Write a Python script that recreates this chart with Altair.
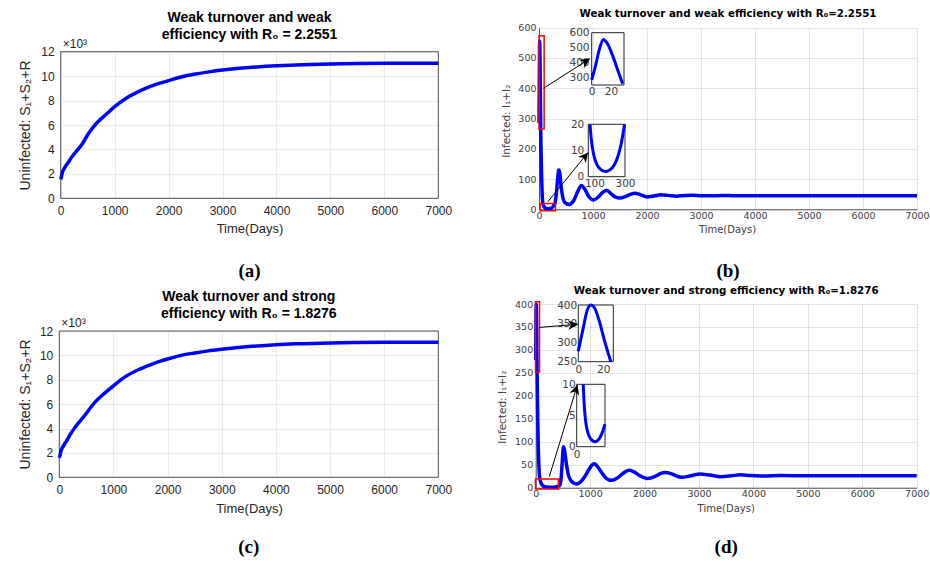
import math
import altair as alt
import pandas as pd

W, H = 930, 561

# ---------------- values ----------------
TIME_A = [0, 10, 30, 60, 100, 150, 200, 300, 400, 500, 600, 700, 850, 1000, 1200, 1500,
          1750, 2000, 2250, 2500, 2750, 3000, 3500, 4000, 4500, 5000, 6000, 7000]
UNINF_A = [1.55, 1.7, 2.1, 2.4, 2.7, 3.0, 3.35, 3.9, 4.45, 5.2, 5.8, 6.3, 6.9, 7.5, 8.15, 8.85,
           9.3, 9.63, 9.95, 10.17, 10.35, 10.5, 10.7, 10.85, 10.93, 11.0, 11.05, 11.05]
TIME_C = [0, 10, 30, 60, 100, 150, 200, 300, 400, 500, 600, 700, 850, 1000, 1200, 1500,
          1750, 2000, 2250, 2500, 2750, 3000, 3500, 4000, 4500, 5000, 6000, 7000]
UNINF_C = [1.6, 1.75, 2.15, 2.45, 2.75, 3.1, 3.5, 4.15, 4.7, 5.25, 5.85, 6.35, 6.95, 7.5, 8.2, 8.9,
           9.35, 9.7, 10.0, 10.2, 10.37, 10.5, 10.72, 10.88, 10.96, 11.02, 11.07, 11.08]
TIME_B = [0, 4, 8, 12, 16, 22, 28, 32, 40, 50, 60, 71, 80, 95, 115, 140, 170, 200, 230, 255,
          275, 297, 320, 345, 365, 385, 410, 440, 480, 560, 640, 720, 785, 850, 920, 1000, 1100,
          1180, 1255, 1330, 1420, 1495, 1600, 1700, 1776, 1880, 2000, 2130, 2255, 2400, 2550,
          2700, 2850, 3000, 3200, 3400, 3600, 4000, 5000, 6000, 7000]
INF_B = [285, 380, 490, 555, 530, 440, 330, 258, 180, 100, 45, 20, 14, 8.5, 4.8, 2.8, 2.0, 2.6,
         4.5, 8, 12.5, 20, 50, 100, 130, 120, 75, 40, 22, 16, 28, 60, 79, 66, 42, 31, 41, 56, 62,
         52, 40, 37, 42, 50, 53, 48, 41, 44, 48, 46, 43.5, 45.5, 46.5, 45, 44.5, 45.5, 45, 45, 45,
         45, 45]
TIME_D = [0, 4, 7, 10, 13, 17, 21, 26, 35, 45, 60, 75, 99, 115, 140, 170, 210, 250, 280, 320,
          360, 400, 430, 450, 470, 490, 510, 530, 560, 600, 650, 700, 753, 820, 900, 980, 1040,
          1078, 1130, 1200, 1290, 1396, 1500, 1600, 1715, 1800, 1900, 2000, 2058, 2200, 2300,
          2376, 2500, 2600, 2682, 2850, 3019, 3200, 3400, 3600, 3750, 3950, 4200, 4500, 5000,
          6000, 7000]
INF_D = [278, 340, 385, 400, 392, 355, 305, 250, 170, 100, 45, 20, 10, 6.5, 3.8, 2.2, 1.3, 0.9,
         0.8, 1.0, 1.6, 2.6, 3.6, 8, 25, 60, 89, 82, 55, 28, 15, 10, 8, 12, 24, 40, 50, 52, 47,
         35, 21, 16, 21, 31, 38, 35, 27, 21.5, 20, 25, 31, 33, 30, 25, 22.5, 26, 30, 27.5, 24,
         26, 28, 26.5, 25.5, 26.5, 26, 26, 26]

TITLE_A = "Weak turnover and weak\nefficiency with R\u2080 = 2.2551"
TITLE_C = "Weak turnover and strong\nefficiency with R\u2080 = 1.8276"
TITLE_B = "Weak turnover and weak efficiency with R\u2080=2.2551"
TITLE_D = "Weak turnover and strong efficiency with R\u2080=1.8276"
CAPTIONS = ["(a)", "(b)", "(c)", "(d)"]
XTITLE = "Time(Days)"
YTITLE_U = "Uninfected: S\u2081+S\u2082+R"
YTITLE_I = "Infected: I\u2081+I\u2082"
EXPONENT = "\u00d710\u00b3"

X_DOM = [0, 7000]
X_TICKS = [0, 1000, 2000, 3000, 4000, 5000, 6000, 7000]
U_DOM = [0, 12]
U_TICKS = [0, 2, 4, 6, 8, 10, 12]
B_DOM = [0, 600]
B_TICKS = [0, 100, 200, 300, 400, 500, 600]
D_DOM = [0, 400]
D_TICKS = [0, 50, 100, 150, 200, 250, 300, 350, 400]

# zoom windows of the insets
B_Z1 = dict(x=[0, 33.4], y=[250, 600], xt=[0, 20], yt=[300, 400, 500, 600])
B_Z2 = dict(x=[60, 300], y=[0, 20], xt=[100, 300], yt=[0, 10, 20])
D_Z1 = dict(x=[0, 28], y=[250, 400], xt=[0, 20], yt=[250, 300, 350, 400])
D_Z2 = dict(x=[0, 430], y=[0, 10], xt=[0], yt=[0, 5, 10])
# red rectangles [x0, x1, y0, y1] and arrows [x0, y0, x1, y1] in panel units
B_RED = [[0, 95, 265, 573], [20, 305, -5, 19]]
B_ARROWS = [[85, 400, 944, 498], [165, 25, 910, 188]]
D_RED = [[-4, 70, 252, 405], [-4, 415, -3, 19]]
D_ARROWS = [[73, 349, 777, 356], [250, 24, 766, 224]]

# ---------------- layout (pixels) ----------------
BOX_A = (60.7, 51.7, 438.3, 198.3)
BOX_B = (539.0, 27.7, 917.0, 209.3)
BOX_C = (59.3, 331.0, 438.3, 477.3)
BOX_D = (535.7, 304.0, 916.7, 487.7)
IN_B1 = (591.7, 32.7, 624.0, 85.0)
IN_B2 = (588.3, 124.3, 625.0, 176.7)
IN_D1 = (578.3, 305.0, 613.3, 361.7)
IN_D2 = (576.7, 384.3, 605.0, 446.7)

BLUE = "#0000ff"
ST_NEW = dict(font="Liberation Sans", text="#262626", axis="#262626", grid="#e4e4e4",
              lsize=12, tsize=13, ytsize=14, head_font="Liberation Sans", head_size=14)
ST_OLD = dict(font="DejaVu Sans", text="#404040", axis="#555555", grid="#dcdcdc",
              lsize=9.5, tsize=10, ytsize=10.5, head_font="DejaVu Sans", head_size=10.3)
ARROW_SHAPE = "M0,0L-0.5,1L0,0.7L0.5,1Z"


def sx(dom, box):
    return alt.Scale(domain=list(dom), range=[box[0], box[2]], nice=False, zero=False)


def sy(dom, box):
    return alt.Scale(domain=list(dom), range=[box[3], box[1]], nice=False, zero=False)


def x_axis(box, values, st, pad, size, title=None, tpos=None, domain=False):
    kw = dict(orient="bottom", offset=box[3] - H, values=values, format="d",
              labelFont=st["font"], labelFontSize=size, labelColor=st["text"],
              labelPadding=pad, labelFlush=False, labelOverlap=False, ticks=False,
              grid=False, domain=domain)
    if domain:
        kw.update(domainColor=st["axis"], domainWidth=1)
    if title:
        kw.update(title=title, titleX=tpos[0], titleY=tpos[1] - box[3], titleAlign="center",
                  titleBaseline="middle", titleFont=st["font"], titleFontSize=st["tsize"],
                  titleFontWeight="normal", titleColor=st["text"])
    else:
        kw.update(title=None)
    return alt.Axis(**kw)


def x_grid_axis(values, st):
    # a top-oriented axis that only draws the vertical grid lines
    return alt.Axis(orient="top", values=values, labels=False, ticks=False, domain=False,
                    grid=True, gridColor=st["grid"], gridWidth=0.8, title=None)


def y_axis(box, values, st, pad, size, title=None, tpos=None, grid=False, domain=False):
    kw = dict(orient="left", offset=-box[0], values=values, format="d",
              labelFont=st["font"], labelFontSize=size, labelColor=st["text"],
              labelPadding=pad, labelOverlap=False, ticks=False,
              grid=grid, domain=domain)
    if grid:
        kw.update(gridColor=st["grid"], gridWidth=0.8)
    if domain:
        kw.update(domainColor=st["axis"], domainWidth=1)
    if title:
        kw.update(title=title, titleX=tpos[0] - box[0], titleY=tpos[1], titleAlign="center",
                  titleBaseline="middle", titleAngle=270, titleFont=st["font"],
                  titleFontSize=st["ytsize"], titleFontWeight="normal", titleColor=st["text"])
    else:
        kw.update(title=None)
    return alt.Axis(**kw)


def rect_layer(df, xs_, ys_, **mark):
    return alt.Chart(df).mark_rect(**mark).encode(
        x=alt.X("x0:Q", scale=xs_, axis=None), x2="x1:Q",
        y=alt.Y("y0:Q", scale=ys_, axis=None), y2="y1:Q")


def text_layer(df, xs_, ys_, xaxis=None, **mark):
    return alt.Chart(df).mark_text(**mark).encode(
        x=alt.X("x:Q", scale=xs_, axis=xaxis), y=alt.Y("y:Q", scale=ys_, axis=None),
        text="label:N")


def main_panel(t, v, ydom, yticks, box, st, ytitle, xtpos, ytpos, lpx, lpy,
               title, title_dy, caption, cap_dy, framed, exponent_dy=None):
    xs_, ys_ = sx(X_DOM, box), sy(ydom, box)
    layers = []
    mid = (X_DOM[0] + X_DOM[1]) / 2
    # title text (also carries the vertical grid lines)
    layers.append(text_layer(pd.DataFrame({"x": [mid], "y": [ydom[1]], "label": [title]}), xs_, ys_,
                             xaxis=x_grid_axis(X_TICKS, st),
                             font=st["head_font"], fontSize=st["head_size"], fontWeight="bold",
                             color="#000000", align="center", baseline="middle", dy=title_dy,
                             lineBreak="\n", lineHeight=17))
    if framed:
        frame = pd.DataFrame({"x0": [X_DOM[0]], "x1": [X_DOM[1]], "y0": [ydom[0]], "y1": [ydom[1]]})
        layers.append(rect_layer(frame, xs_, ys_, fillOpacity=0, stroke=st["axis"], strokeWidth=0.8))
    df = pd.DataFrame({"t": t, "v": v})
    layers.append(alt.Chart(df).mark_line(color=BLUE, strokeWidth=3.5, interpolate="monotone").encode(
        x=alt.X("t:Q", scale=xs_, axis=x_axis(box, X_TICKS, st, lpx, st["lsize"], XTITLE, xtpos,
                                              domain=not framed)),
        y=alt.Y("v:Q", scale=ys_, axis=y_axis(box, yticks, st, lpy, st["lsize"], ytitle, ytpos,
                                              grid=True, domain=not framed))))
    layers.append(text_layer(pd.DataFrame({"x": [mid], "y": [ydom[0]], "label": [caption]}), xs_, ys_,
                             font="Liberation Serif", fontSize=19, fontWeight="bold",
                             color="#000000", align="center", baseline="middle", dy=cap_dy))
    if exponent_dy is not None:
        layers.append(text_layer(pd.DataFrame({"x": [X_DOM[0]], "y": [ydom[1]], "label": [EXPONENT]}),
                                 xs_, ys_, font=st["font"], fontSize=12, color=st["text"],
                                 align="left", baseline="middle", dx=2, dy=exponent_dy))
    return layers, xs_, ys_


def annotations(red, arrows, ydom, box, xs_, ys_):
    kx = (box[2] - box[0]) / (X_DOM[1] - X_DOM[0])
    ky = (box[3] - box[1]) / (ydom[1] - ydom[0])
    rdf = pd.DataFrame(red, columns=["x0", "x1", "y0", "y1"])
    adf = pd.DataFrame(arrows, columns=["x0", "y0", "x1", "y1"])
    adf["ang"] = [math.degrees(math.atan2((a[2] - a[0]) * kx, (a[3] - a[1]) * ky)) for a in arrows]
    boxes = rect_layer(rdf, xs_, ys_, fillOpacity=0, stroke="#ff0000", strokeWidth=1.5)
    lines = alt.Chart(adf).mark_rule(color="#000000", strokeWidth=1).encode(
        x=alt.X("x0:Q", scale=xs_, axis=None), y=alt.Y("y0:Q", scale=ys_, axis=None),
        x2="x1:Q", y2="y1:Q")
    heads = alt.Chart(adf).mark_point(shape=ARROW_SHAPE, filled=True, color="#000000", opacity=1,
                                      size=400, strokeWidth=0).encode(
        x=alt.X("x1:Q", scale=xs_, axis=None), y=alt.Y("y1:Q", scale=ys_, axis=None),
        angle=alt.Angle("ang:Q", scale=None))
    return [boxes, lines, heads]


def inset(t, v, zoom, box, st, padx, pady):
    xs_, ys_ = sx(zoom["x"], box), sy(zoom["y"], box)
    frame = pd.DataFrame({"x0": [zoom["x"][0]], "x1": [zoom["x"][1]],
                          "y0": [zoom["y"][0]], "y1": [zoom["y"][1]]})
    fr = rect_layer(frame, xs_, ys_, fillOpacity=0, stroke="#262626", strokeWidth=1)
    cond = (f"datum.t >= {zoom['x'][0]} && datum.t <= {zoom['x'][1]} && "
            f"datum.v >= {zoom['y'][0]} && datum.v <= {zoom['y'][1]}")
    df = pd.DataFrame({"t": t, "v": v})
    ln = alt.Chart(df).transform_filter(cond).mark_line(
        color=BLUE, strokeWidth=3, interpolate="monotone").encode(
        x=alt.X("t:Q", scale=xs_, axis=x_axis(box, zoom["xt"], st, padx, 10.5)),
        y=alt.Y("v:Q", scale=ys_, axis=y_axis(box, zoom["yt"], st, pady, 10.5)))
    return [fr, ln]


la, _, _ = main_panel(TIME_A, UNINF_A, U_DOM, U_TICKS, BOX_A, ST_NEW, YTITLE_U,
                      (249.5, 228), (25, 125), 7, 6.5, TITLE_A, -33.7, CAPTIONS[0], 72.7,
                      True, exponent_dy=-8)
lc, _, _ = main_panel(TIME_C, UNINF_C, U_DOM, U_TICKS, BOX_C, ST_NEW, YTITLE_U,
                      (249, 508), (25, 404), 7, 6.5, TITLE_C, -34, CAPTIONS[2], 69.7,
                      True, exponent_dy=-8)
lb, xsb, ysb = main_panel(TIME_B, INF_B, B_DOM, B_TICKS, BOX_B, ST_OLD, YTITLE_I,
                          (727, 229.3), (506.5, 120.7), 1, 3, TITLE_B, -13.7, CAPTIONS[1],
                          61.7, False)
ld, xsd, ysd = main_panel(TIME_D, INF_D, D_DOM, D_TICKS, BOX_D, ST_OLD, YTITLE_I,
                          (725.7, 508.3), (502.5, 406.7), 1, 3, TITLE_D, -13, CAPTIONS[3],
                          59.3, False)

all_layers = (la + lc + lb
              + inset(TIME_B, INF_B, B_Z1, IN_B1, ST_OLD, 1.8, 2.7)
              + inset(TIME_B, INF_B, B_Z2, IN_B2, ST_OLD, 2, 4.5)
              + annotations(B_RED, B_ARROWS, B_DOM, BOX_B, xsb, ysb)
              + ld
              + inset(TIME_D, INF_D, D_Z1, IN_D1, ST_OLD, 2.4, 1.6)
              + inset(TIME_D, INF_D, D_Z2, IN_D2, ST_OLD, 2.4, 1.5)
              + annotations(D_RED, D_ARROWS, D_DOM, BOX_D, xsd, ysd))

chart = alt.layer(*all_layers).resolve_scale(
    x="independent", y="independent"
).properties(
    width=W, height=H, autosize=alt.AutoSizeParams(type="none"), padding=0
).configure_view(stroke=None)

chart.save("out.html", embed_options={"renderer": "svg", "actions": False})
